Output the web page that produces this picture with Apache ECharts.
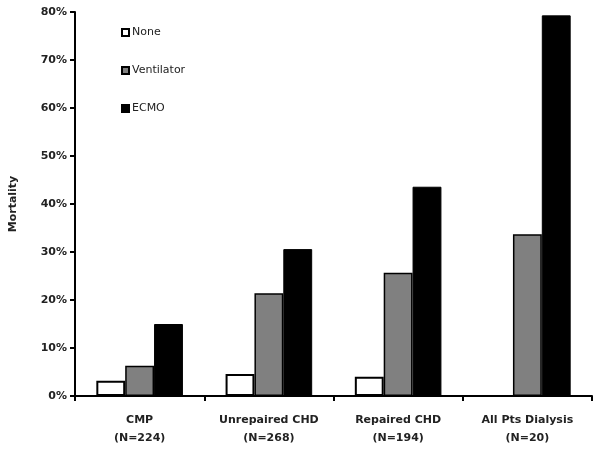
<!DOCTYPE html>
<html>
<head>
<meta charset="utf-8">
<script src="https://cdn.jsdelivr.net/npm/echarts@6/dist/echarts.min.js"></script>
<style>html,body{margin:0;padding:0;background:#fff}#c{width:600px;height:451px}</style>
</head>
<body>
<div id="c"></div>
<script>
var categories = ["CMP\n(N=224)", "Unrepaired CHD\n(N=268)", "Repaired CHD\n(N=194)", "All Pts Dialysis\n(N=20)"];
var seriesNames = ["None", "Ventilator", "ECMO"];
var noneValues = [3.2, 4.6, 4.0, 0];
var ventilatorValues = [6.3, 21.4, 25.7, 33.7];
var ecmoValues = [15.0, 30.6, 43.6, 79.3];
var yTicks = [0, 10, 20, 30, 40, 50, 60, 70, 80];

var chart = echarts.init(document.getElementById('c'), null, {renderer: 'canvas'});
var font = "'DejaVu Sans', 'Liberation Sans', Arial, sans-serif";
chart.setOption({
  animation: false,
  backgroundColor: '#fff',
  grid: {left: 74, top: 12, right: 8, bottom: 55, containLabel: false},
  legend: {
    orient: 'vertical',
    left: 116, top: 23,
    itemWidth: 7, itemHeight: 7, itemGap: 24,
    icon: 'rect',
    data: seriesNames,
    textStyle: {fontFamily: font, fontSize: 11, color: '#222', padding: [0,0,0,-2]}
  },
  xAxis: {
    type: 'category',
    data: categories,
    axisLine: {lineStyle: {color: '#000', width: 2}},
    axisTick: {show: true, length: 5, lineStyle: {color: '#000', width: 2}},
    axisLabel: {fontFamily: font, fontSize: 11, fontWeight: 'bold', color: '#222', lineHeight: 18, margin: 15, interval: 0}
  },
  yAxis: {
    type: 'value',
    min: 0, max: 80, interval: 10,
    name: 'Mortality',
    nameLocation: 'middle',
    nameGap: 56,
    nameTextStyle: {fontFamily: font, fontSize: 11, fontWeight: 'bold', color: '#222'},
    splitLine: {show: false},
    axisLine: {show: true, lineStyle: {color: '#000', width: 2}},
    axisTick: {show: true, length: 5, lineStyle: {color: '#000', width: 2}},
    axisLabel: {fontFamily: font, fontSize: 11, fontWeight: 'bold', color: '#222', margin: 8,
      formatter: function(v){ return yTicks.indexOf(v) >= 0 ? v + '%' : ''; }}
  },
  series: [
    {name: seriesNames[0], type: 'bar', data: noneValues, barGap: '0%', barCategoryGap: '33%',
     itemStyle: {color: '#fff', borderColor: '#000', borderWidth: 2}},
    {name: seriesNames[1], type: 'bar', data: ventilatorValues, barGap: '0%', barCategoryGap: '33%',
     itemStyle: {color: '#808080', borderColor: '#000', borderWidth: 1.5}},
    {name: seriesNames[2], type: 'bar', data: ecmoValues, barGap: '0%', barCategoryGap: '33%',
     itemStyle: {color: '#000', borderColor: '#000', borderWidth: 1}}
  ]
});
chart.setOption({legend: {top: 22, itemGap: 27}});
</script>
</body>
</html>
